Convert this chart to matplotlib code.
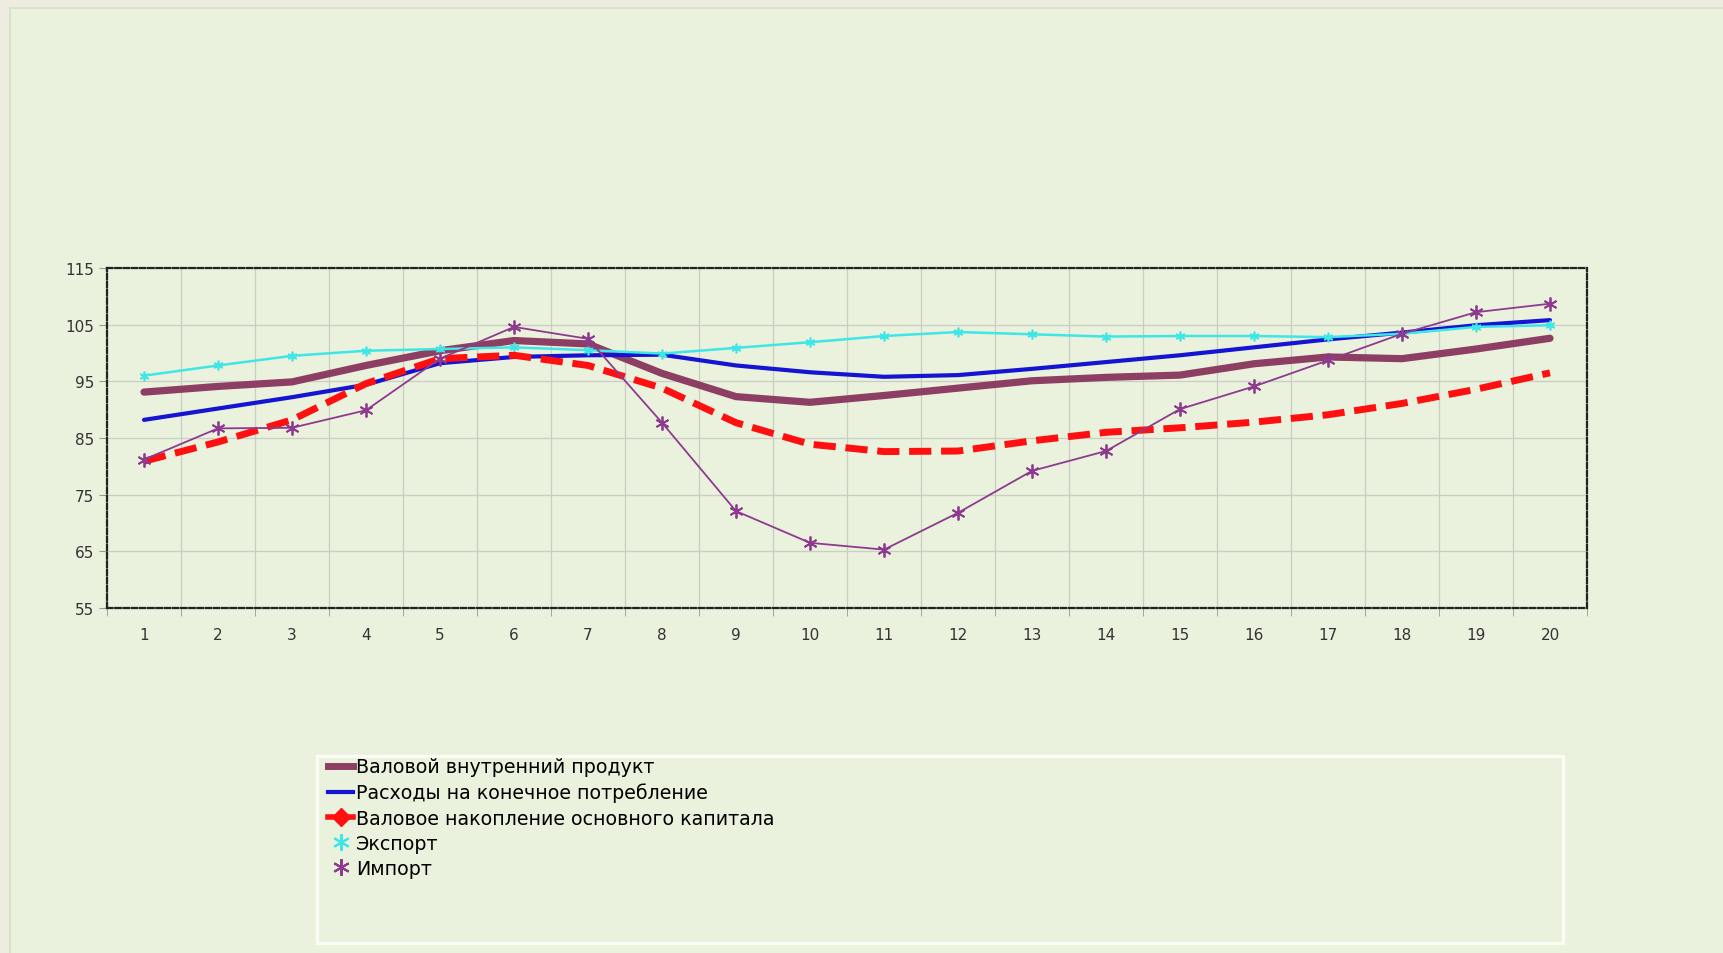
import matplotlib
matplotlib.use("Agg")
import matplotlib.pyplot as plt
from matplotlib.patches import Rectangle
from matplotlib.lines import Line2D

plt.rcParams['font.family'] = ['DejaVu Sans']

# data
periods = list(range(1, 21))
gdp = [93.1, 94.1, 94.9, 97.8, 100.4, 102.2, 101.6, 96.4, 92.3, 91.3,
       92.5, 93.8, 95.1, 95.7, 96.1, 98.1, 99.3, 99.0, 100.7, 102.6]
consumption = [88.2, 90.2, 92.2, 94.4, 98.2, 99.3, 99.6, 99.7, 97.8, 96.6,
               95.8, 96.1, 97.2, 98.4, 99.6, 101.0, 102.4, 103.6, 104.9, 105.8]
investment = [80.9, 84.3, 88.2, 94.6, 99.0, 99.6, 97.8, 93.8, 87.7, 83.9,
              82.6, 82.7, 84.5, 86.0, 86.8, 87.8, 89.1, 91.1, 93.6, 96.5]
export = [96.0, 97.8, 99.5, 100.4, 100.7, 101.0, 100.5, 99.9, 100.9, 101.9,
          103.0, 103.7, 103.3, 102.9, 103.0, 103.0, 102.8, 103.4, 104.6, 104.9]
imports = [81.2, 86.7, 86.8, 89.9, 99.0, 104.6, 102.5, 87.7, 72.1, 66.5,
           65.3, 71.8, 79.2, 82.7, 90.1, 94.1, 98.7, 103.4, 107.2, 108.7]

labels = ['Валовой внутренний продукт',
          'Расходы на конечное потребление',
          'Валовое накопление основного капитала',
          'Экспорт',
          'Импорт']

fig = plt.figure(figsize=(17.23, 9.54), dpi=100, facecolor='#EEEBE0')
# inner panel with a faint shadow edge
fig.patches.append(Rectangle((9 / 1723, 0), 1, 1 - 8 / 954, transform=fig.transFigure,
                             facecolor='#D9E0CC', edgecolor='none', zorder=-6))
fig.patches.append(Rectangle((11 / 1723, 0), 1, 1 - 10 / 954, transform=fig.transFigure,
                             facecolor='#EAF1DD', edgecolor='none', zorder=-5))

ax = fig.add_axes([107 / 1723, 1 - 609 / 954, 1480 / 1723, 340 / 954])
ax.set_facecolor('#EAF1DD')

star = (6, 2, 0)
ax.plot(periods, gdp, color='#8C3F63', lw=5.2, solid_capstyle='round', zorder=3)
ax.plot(periods, consumption, color='#1414D2', lw=3, solid_capstyle='round', zorder=4)
ax.plot(periods, investment, color='#FF1010', lw=5, ls=(0, (3.2, 1.4)), zorder=5)
ax.plot(periods, export, color='#3FE6E6', lw=1.8, marker=star, ms=7, mew=1.2, zorder=4)
ax.plot(periods, imports, color='#8E3A8E', lw=1.3, marker=star, ms=10, mew=1.3, zorder=6)

ax.set_xlim(0.5, 20.5)
ax.set_ylim(55, 115)
ax.set_yticks(range(55, 116, 10))
ax.set_xticks(periods)
ax.set_xticks([p + 0.5 for p in range(0, 21)], minor=True)
ax.tick_params(axis='x', which='major', length=0, pad=14, labelsize=11, labelcolor='#333333')
ax.tick_params(axis='x', which='minor', length=6, color='#999999', direction='out')
ax.tick_params(axis='y', length=6, color='#999999', pad=3, labelsize=11, labelcolor='#333333')
ax.grid(True, axis='y', which='major', color='#C9CDC2', lw=0.9)
ax.grid(True, axis='x', which='minor', color='#C9CDC2', lw=0.9)
ax.set_axisbelow(True)
for s in ax.spines.values():
    s.set_linestyle((0, (2.5, 1.2)))
    s.set_linewidth(1.6)
    s.set_color('#222222')

# legend box
fig.patches.append(Rectangle((317 / 1723, 1 - 944 / 954), 1246 / 1723, 187 / 954,
                             transform=fig.transFigure, facecolor='none',
                             edgecolor='#FBFDF4', lw=2.5, zorder=1))
handles = [
    Line2D([], [], color='#8C3F63', lw=5),
    Line2D([], [], color='#1414D2', lw=3),
    Line2D([], [], color='#FF1010', lw=4, marker='D', ms=9),
    Line2D([], [], color='#3FE6E6', lw=0, marker=star, ms=12, mew=1.5),
    Line2D([], [], color='#8E3A8E', lw=0, marker=star, ms=12, mew=1.5),
]
fig.legend(handles, labels, loc='upper left', bbox_to_anchor=(315 / 1723, 1 - 745 / 954),
           frameon=False, fontsize=13.7, handlelength=1.3, handletextpad=0.15,
           labelspacing=0.33, borderpad=0.2)

fig.savefig('out.png', dpi=100, facecolor=fig.get_facecolor())
